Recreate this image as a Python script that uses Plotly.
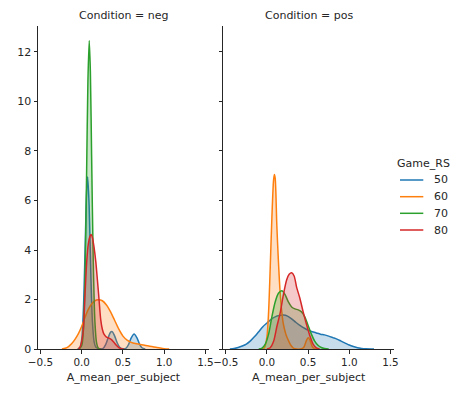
import plotly.graph_objects as go

# ---- data (KDE curves of A_mean_per_subject) ----
conditions = ["neg", "pos"]
game_rs = ["50", "60", "70", "80"]
colors = ["#1f77b4", "#ff7f0e", "#2ca02c", "#d62728"]
fills = ["rgba(31,119,180,0.25)", "rgba(255,127,14,0.25)",
         "rgba(44,160,44,0.25)", "rgba(214,39,40,0.25)"]

# Condition = neg
neg_50_x = [-0.05, -0.02, 0.0, 0.02, 0.04, 0.06, 0.072, 0.09, 0.11, 0.13, 0.15, 0.17, 0.2, 0.23,
            0.26, 0.29, 0.32, 0.35, 0.37, 0.4, 0.43, 0.46, 0.5, 0.54, 0.57, 0.6, 0.635, 0.67, 0.7, 0.73, 0.77]
neg_50_y = [0, 0.08, 0.4, 1.55, 3.9, 6.4, 6.96, 5.8, 3.1, 1.1, 0.3, 0.08, 0.02, 0.01,
            0.03, 0.18, 0.45, 0.68, 0.7, 0.52, 0.25, 0.07, 0.01, 0.04, 0.2, 0.45, 0.61, 0.45, 0.2, 0.05, 0]
neg_60_x = [-0.24, -0.2, -0.16, -0.12, -0.08, -0.04, 0.0, 0.04, 0.08, 0.12, 0.16, 0.2, 0.25, 0.3,
            0.35, 0.4, 0.45, 0.5, 0.55, 0.6, 0.65, 0.7, 0.75, 0.8, 0.85, 0.9, 0.95, 1.0, 1.06]
neg_60_y = [0, 0.03, 0.1, 0.22, 0.4, 0.62, 0.92, 1.28, 1.6, 1.82, 1.95, 1.99, 1.95, 1.78,
            1.5, 1.15, 0.8, 0.52, 0.36, 0.27, 0.22, 0.19, 0.16, 0.13, 0.1, 0.07, 0.04, 0.015, 0]
neg_70_x = [-0.03, 0.0, 0.02, 0.04, 0.06, 0.075, 0.091, 0.105, 0.12, 0.14, 0.16, 0.18, 0.2, 0.23]
neg_70_y = [0, 0.14, 0.75, 2.9, 7.3, 10.8, 12.46, 11.2, 7.8, 3.5, 1.1, 0.25, 0.04, 0]
neg_80_x = [-0.04, -0.02, 0.0, 0.02, 0.04, 0.06, 0.08, 0.1, 0.115, 0.13, 0.15, 0.17, 0.19, 0.21,
            0.23, 0.25, 0.27, 0.3, 0.33, 0.36, 0.39, 0.42, 0.45, 0.48, 0.51]
neg_80_y = [0, 0.08, 0.3, 0.8, 2.2, 3.5, 4.25, 4.55, 4.63, 4.5, 4.1, 3.55, 2.8, 2.0,
            1.2, 0.8, 0.6, 0.48, 0.44, 0.38, 0.27, 0.15, 0.06, 0.015, 0]

# Condition = pos
pos_50_x = [-0.45, -0.4, -0.35, -0.3, -0.25, -0.2, -0.15, -0.1, -0.05, 0.0, 0.05, 0.1, 0.15, 0.2,
            0.25, 0.3, 0.35, 0.4, 0.45, 0.5, 0.55, 0.6, 0.65, 0.7, 0.75, 0.8, 0.85, 0.9, 0.95,
            1.0, 1.05, 1.1, 1.15, 1.2, 1.3]
pos_50_y = [0, 0.02, 0.06, 0.12, 0.2, 0.33, 0.5, 0.7, 0.9, 1.05, 1.2, 1.3, 1.35, 1.37,
            1.33, 1.22, 1.08, 0.95, 0.85, 0.76, 0.7, 0.65, 0.6, 0.57, 0.52, 0.46, 0.4, 0.32, 0.24,
            0.16, 0.1, 0.05, 0.025, 0.01, 0]
pos_60_x = [-0.06, -0.03, 0.0, 0.02, 0.04, 0.06, 0.08, 0.09, 0.1, 0.12, 0.14, 0.16, 0.18, 0.2,
            0.23, 0.26, 0.29, 0.32, 0.36, 0.42, 0.45, 0.48, 0.5, 0.52, 0.55, 0.58, 0.62]
pos_60_y = [0, 0.05, 0.5, 1.5, 3.3, 5.3, 6.8, 7.05, 6.9, 5.0, 3.5, 2.3, 1.5, 1.0,
            0.6, 0.35, 0.15, 0.04, 0.0, 0.01, 0.08, 0.35, 0.45, 0.38, 0.1, 0.01, 0]
pos_70_x = [-0.1, -0.06, -0.02, 0.02, 0.06, 0.1, 0.14, 0.18, 0.22, 0.26, 0.3, 0.34, 0.38, 0.42,
            0.46, 0.5, 0.54, 0.58, 0.62, 0.66, 0.7, 0.75]
pos_70_y = [0, 0.04, 0.2, 0.6, 1.3, 1.9, 2.25, 2.35, 2.2, 1.9, 1.7, 1.62, 1.58, 1.5,
            1.3, 0.95, 0.6, 0.32, 0.15, 0.06, 0.02, 0]
pos_80_x = [0.0, 0.04, 0.08, 0.12, 0.16, 0.2, 0.24, 0.27, 0.3, 0.33, 0.36, 0.4, 0.44, 0.48,
            0.52, 0.56, 0.6, 0.64]
pos_80_y = [0, 0.05, 0.3, 0.9, 1.45, 2.2, 2.8, 3.02, 3.08, 2.95, 2.5, 2.05, 1.5, 1.0,
            0.55, 0.2, 0.05, 0]

x_ticks = [-0.5, 0.0, 0.5, 1.0, 1.5]
x_tick_labels = ["\u22120.5", "0.0", "0.5", "1.0", "1.5"]
y_ticks = [0, 2, 4, 6, 8, 10, 12]

curves = {
    "neg": [(neg_50_x, neg_50_y), (neg_60_x, neg_60_y), (neg_70_x, neg_70_y), (neg_80_x, neg_80_y)],
    "pos": [(pos_50_x, pos_50_y), (pos_60_x, pos_60_y), (pos_70_x, pos_70_y), (pos_80_x, pos_80_y)],
}

FONT = "DejaVu Sans"
TXT = "#262626"

fig = go.Figure()
for ci, cond in enumerate(conditions):
    xa = "x" if ci == 0 else "x2"
    ya = "y" if ci == 0 else "y2"
    for gi, (xs, ys) in enumerate(curves[cond]):
        fig.add_trace(go.Scatter(x=xs, y=ys, xaxis=xa, yaxis=ya, mode="lines",
                                 line=dict(width=0, shape="spline", smoothing=0.8),
                                 fill="tozeroy", fillcolor=fills[gi],
                                 showlegend=False, hoverinfo="skip"))
        fig.add_trace(go.Scatter(x=xs, y=ys, xaxis=xa, yaxis=ya, mode="lines",
                                 line=dict(width=1.5, color=colors[gi], shape="spline", smoothing=0.8),
                                 name=game_rs[gi], showlegend=False))

L, R, T, B = 38, 80, 26, 48
W, H = 474, 397
pw = W - L - R
ph = H - T - B


def px_x(p):
    return (p - L) / pw


def px_y(p):
    return 1 - (p - T) / ph


axis_common = dict(range=[-0.53, 1.543], tickvals=x_ticks, ticktext=x_tick_labels,
                   showgrid=False, zeroline=False, showline=True, linecolor=TXT, linewidth=1,
                   ticks="outside", ticklen=3.5, tickwidth=1, tickcolor=TXT, automargin=False,
                   tickfont=dict(family=FONT, size=10.4, color=TXT),
                   title=dict(text="A_mean_per_subject", font=dict(family=FONT, size=11, color=TXT),
                              standoff=6))
yaxis_common = dict(range=[0, 13.05], tickvals=y_ticks, showgrid=False, zeroline=False,
                    showline=True, linecolor=TXT, linewidth=1, ticks="outside", ticklen=3.5,
                    tickwidth=1, tickcolor=TXT, automargin=False,
                    tickfont=dict(family=FONT, size=11, color=TXT))

annotations = [
    dict(text="Condition = " + conditions[0], xref="paper", yref="paper",
         x=(171 / pw) / 2, y=px_y(15), xanchor="center", yanchor="middle",
         showarrow=False, font=dict(family=FONT, size=11, color=TXT)),
    dict(text="Condition = " + conditions[1], xref="paper", yref="paper",
         x=(185.3 / pw + 1.0) / 2, y=px_y(15), xanchor="center", yanchor="middle",
         showarrow=False, font=dict(family=FONT, size=11, color=TXT)),
    dict(text="Game_RS", xref="paper", yref="paper", x=px_x(423.7), y=px_y(163.3),
         xanchor="center", yanchor="middle", showarrow=False,
         font=dict(family=FONT, size=11, color=TXT)),
]
shapes = []
legend_rows = [180, 196.7, 213.3, 230]
for gi, name in enumerate(game_rs):
    yy = px_y(legend_rows[gi])
    shapes.append(dict(type="line", xref="paper", yref="paper", x0=px_x(400), x1=px_x(423.3),
                       y0=yy, y1=yy, line=dict(color=colors[gi], width=1.5)))
    annotations.append(dict(text=name, xref="paper", yref="paper", x=px_x(431.5), y=yy,
                            xanchor="left", yanchor="middle", showarrow=False,
                            font=dict(family=FONT, size=11, color=TXT)))

fig.update_layout(
    width=W, height=H,
    margin=dict(l=L, r=R, t=T, b=B, pad=0),
    paper_bgcolor="white", plot_bgcolor="white",
    font=dict(family=FONT, size=11, color=TXT),
    showlegend=False,
    xaxis=dict(domain=[0, 171 / pw], anchor="y", **axis_common),
    xaxis2=dict(domain=[185.3 / pw, 1.0], anchor="y2", **axis_common),
    yaxis=dict(anchor="x", **yaxis_common),
    yaxis2=dict(anchor="x2", showticklabels=False, **yaxis_common),
    annotations=annotations,
    shapes=shapes,
)

fig.write_html("out.html", config={"displayModeBar": False},
               post_script="document.body.style.margin='0px';document.body.style.padding='0px';")
